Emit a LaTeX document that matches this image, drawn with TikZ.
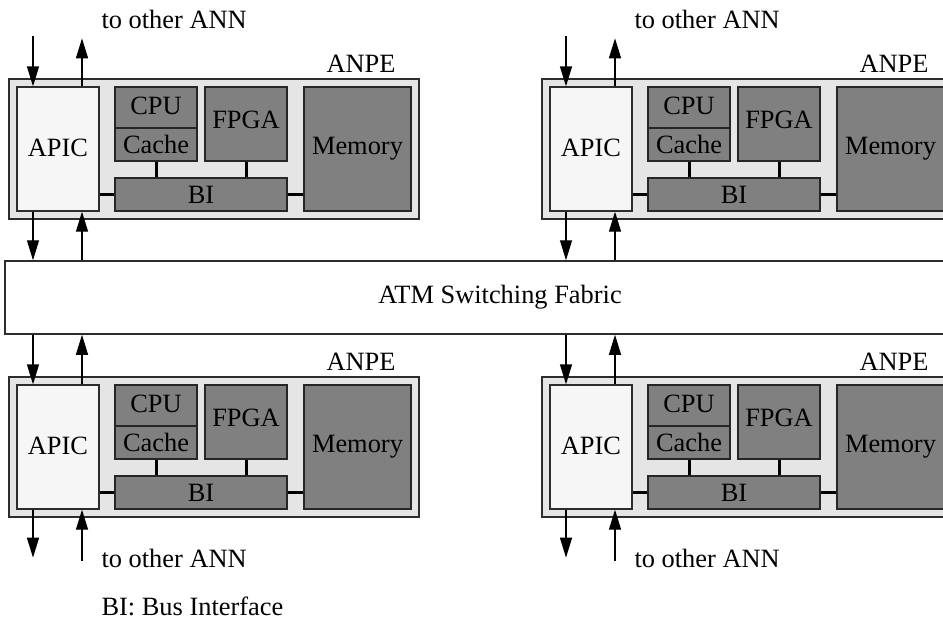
\documentclass[tikz,border=0pt]{standalone}
\usepackage{fontspec}
\setmainfont{Liberation Serif}
\definecolor{anpegray}{RGB}{229,229,229}
\definecolor{apicgray}{RGB}{246,246,246}
\definecolor{unitgray}{RGB}{128,128,128}
\definecolor{edgegray}{RGB}{45,45,45}
\newcommand{\anpefont}{\fontsize{26.4}{30}\selectfont}
\usetikzlibrary{calc}
\usetikzlibrary{positioning}
\usetikzlibrary{arrows.meta}
\tikzset{
  anpe/.style={draw=edgegray, line width=1.8pt, fill=anpegray, minimum width=410pt, minimum height=140pt, inner sep=0pt},
  apic/.style={draw=edgegray, line width=1.3pt, fill=apicgray, minimum width=82pt, minimum height=124pt, inner sep=0pt},
  unit/.style={draw=black!85, line width=1.3pt, fill=unitgray, inner sep=0pt},
  fabric/.style={draw=edgegray, line width=1.5pt, fill=white, minimum width=990pt, minimum height=73pt, inner sep=0pt},
  link/.style={line width=3pt},
  sig/.style={line width=1.3pt, -{Triangle[length=20pt,width=12pt]}},
}

\begin{document}
\begin{tikzpicture}[x=1pt,y=-1pt,every node/.style={font=\anpefont}]
  \useasboundingbox (0,0) rectangle (943,622);
  \clip (0,0) rectangle (943,622);

  \node[fabric] (fabric) at (500,297.5) {ATM Switching Fabric};

  % one ANPE per corner
  \foreach \b/\dx/\dy in {ul/0/0, ur/533/0, ll/0/298, lr/533/298} {
    \begin{scope}[shift={(\dx,\dy)}]
      \node[anpe] (\b-anpe) at (214,149) {};
      \node[anchor=base east] (\b-label) at (399,72) {ANPE};
      \node[apic, text depth=3pt] (\b-apic) at (58,149) {APIC};
      \node[unit, minimum width=82pt, minimum height=41pt, text depth=3pt] (\b-cpu) at (156,107.5) {CPU};
      \node[unit, minimum width=82pt, minimum height=33pt] (\b-cache) at (156,144.5) {Cache};
      \node[unit, minimum width=82pt, minimum height=74pt, text depth=9pt] (\b-fpga) at (246,124) {FPGA};
      \node[unit, minimum width=107pt, minimum height=124pt] (\b-mem) at (357.5,149) {Memory};
      \node[unit, minimum width=172pt, minimum height=33pt] (\b-bi) at (201,194.5) {BI};

      \draw[link] (\b-apic.east |- \b-bi.west) -- (\b-bi.west);
      \draw[link] (\b-bi.east) -- (\b-mem.west |- \b-bi.east);
      \draw[link] (\b-cache.south) -- (\b-cache.south |- \b-bi.north);
      \draw[link] (\b-fpga.south) -- (\b-fpga.south |- \b-bi.north);
    \end{scope}
  }

  % upper row: outside above, fabric below
  \foreach \b in {ul,ur} {
    \coordinate (\b-in) at ($(\b-apic.north)+(-25,-50)$);
    \coordinate (\b-out) at ($(\b-apic.north)+(24,-48)$);
    \draw[sig] (\b-in) -- (\b-in |- \b-apic.north);
    \draw[sig] (\b-out |- \b-apic.north) -- (\b-out);
    \draw[sig] (\b-in |- \b-apic.south) -- (\b-in |- fabric.north);
    \draw[sig] (\b-out |- fabric.north) -- (\b-out |- \b-apic.south);
  }

  % lower row: fabric above, outside below
  \foreach \b in {ll,lr} {
    \coordinate (\b-out) at ($(\b-apic.south)+(-25,48)$);
    \coordinate (\b-in) at ($(\b-apic.south)+(24,51)$);
    \draw[sig] (\b-out |- fabric.south) -- (\b-out |- \b-apic.north);
    \draw[sig] (\b-in |- \b-apic.north) -- (\b-in |- fabric.south);
    \draw[sig] (\b-out |- \b-apic.south) -- (\b-out);
    \draw[sig] (\b-in) -- (\b-in |- \b-apic.south);
  }

  \node[anchor=base west] (ul-note) at (98,28) {to other ANN};
  \node[anchor=base west] (ur-note) at (631,28) {to other ANN};
  \node[anchor=base west] (ll-note) at (98,567) {to other ANN};
  \node[anchor=base west] (lr-note) at (631,567) {to other ANN};
  \node[anchor=base west] (legend) at (98,615) {BI: Bus Interface};
\end{tikzpicture}
\end{document}
